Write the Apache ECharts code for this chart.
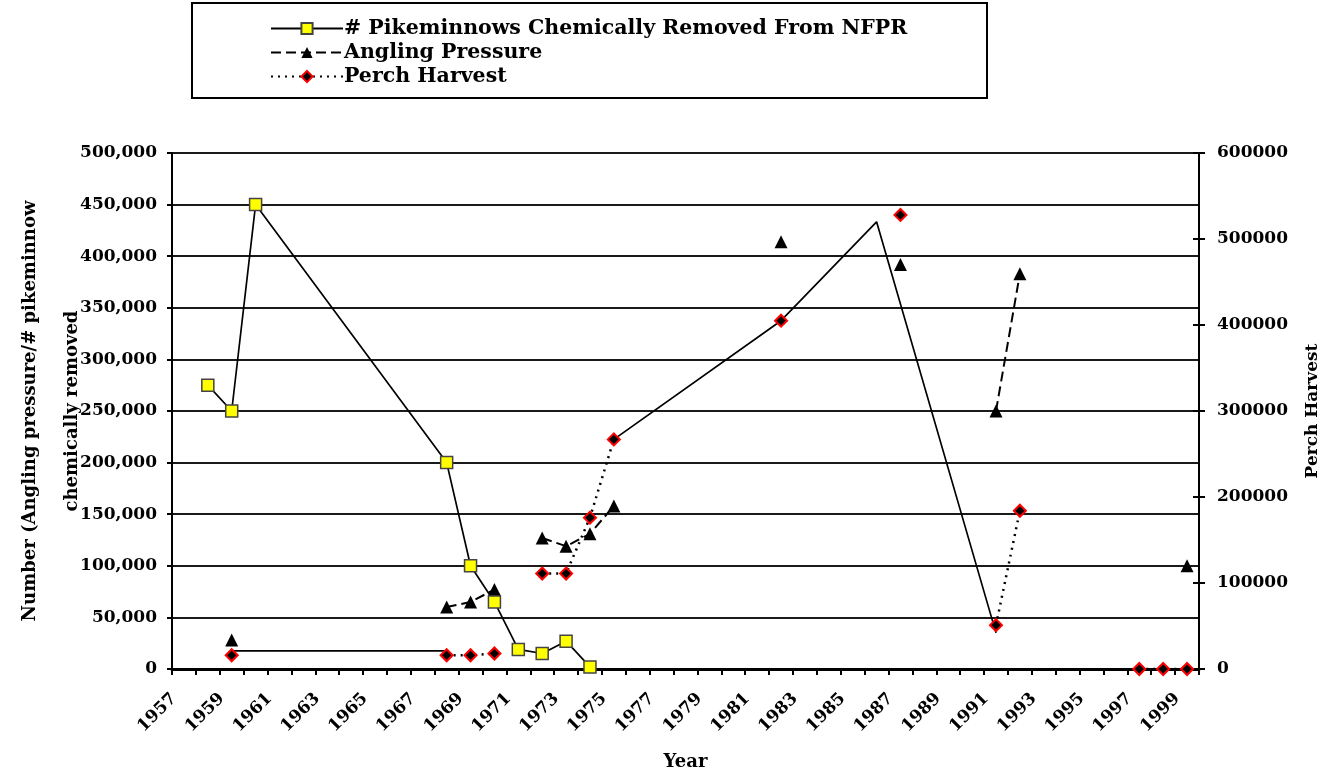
<!DOCTYPE html>
<html>
<head>
<meta charset="utf-8">
<script src="https://cdn.jsdelivr.net/npm/echarts@6/dist/echarts.min.js"></script>
<style>
  html, body { margin: 0; padding: 0; background: #fff; }
  #chart { width: 1330px; height: 776px; }
</style>
</head>
<body>
<div id="chart"></div>
<script>
// ---- Data ----
const years = ['1957','1958','1959','1960','1961','1962','1963','1964','1965','1966','1967','1968','1969','1970','1971','1972','1973','1974','1975','1976','1977','1978','1979','1980','1981','1982','1983','1984','1985','1986','1987','1988','1989','1990','1991','1992','1993','1994','1995','1996','1997','1998','1999'];

const pikeminnowYears  = ['1958','1959','1960','1968','1969','1970','1971','1972','1973','1974'];
const pikeminnowValues = [275000, 250000, 450000, 200000, 100000, 65000, 19000, 15000, 27000, 2000];

const anglingYears  = ['1959','1968','1969','1970','1972','1973','1974','1975','1982','1987','1991','1992','1999'];
const anglingValues = [28000, 60000, 65000, 77000, 127000, 119000, 131000, 158000, 414000, 392000, 250000, 383000, 100000];

const perchYears  = ['1959','1968','1969','1970','1972','1973','1974','1975','1982','1987','1991','1992','1997','1998','1999'];
const perchValues = [16000, 16000, 16000, 18000, 111000, 111000, 176000, 267000, 405000, 528000, 51000, 184000, 0, 0, 0];

// hand-drawn solid connector lines in the original (no markers, not in legend)
const connectorAYears  = ['1959','1968'];
const connectorAValues = [21000, 21000];
const connectorBYears  = ['1975','1982','1986','1991'];
const connectorBValues = [267000, 405000, 520000, 42000];

const leftTicks = { min: 0, max: 500000, interval: 50000 };
const rightTicks = { min: 0, max: 600000, interval: 100000 };

function toSeries(ys, vs) {
  const out = years.map(() => null);
  ys.forEach((y, i) => { out[years.indexOf(y)] = vs[i]; });
  return out;
}

const FONT = "'DejaVu Serif', 'Liberation Serif', serif";
const chart = echarts.init(document.getElementById('chart'), null, { renderer: 'canvas' });

chart.setOption({
  animation: false,
  backgroundColor: '#ffffff',
  textStyle: { fontFamily: FONT, fontWeight: 'bold', color: '#000' },
  grid: { left: 172, right: 131, top: 153, bottom: 107, containLabel: false, outerBoundsMode: 'none' },
  graphic: [{
    type: 'rect',
    shape: { x: 192, y: 3, width: 795, height: 95 },
    style: { fill: 'none', stroke: '#000', lineWidth: 2 },
    silent: true
  }],
  legend: {
    orient: 'vertical',
    left: 270,
    top: 17,
    itemWidth: 72,
    itemHeight: 14,
    itemGap: 1,
    padding: 0,
    textStyle: { fontFamily: FONT, fontWeight: 'bold', fontSize: 20.5, color: '#000', lineHeight: 23, padding: [0, 0, 0, -4] },
    data: ['# Pikeminnows Chemically Removed From NFPR', 'Angling Pressure', 'Perch Harvest']
  },
  xAxis: {
    type: 'category',
    data: years,
    boundaryGap: true,
    name: 'Year',
    nameLocation: 'middle',
    nameGap: 84,
    nameMoveOverlap: false,
    nameTextStyle: { fontFamily: FONT, fontWeight: 'bold', fontSize: 18, color: '#000', verticalAlign: 'top' },
    axisLine: { lineStyle: { color: '#000', width: 3 } },
    axisTick: { show: true, interval: 0, length: 6, lineStyle: { color: '#000', width: 2 } },
    axisLabel: {
      interval: 1, rotate: 45, margin: 17,
      fontFamily: FONT, fontWeight: 'bold', fontSize: 17, color: '#000',
      formatter: v => '{a|' + v + '}{s|}',
      rich: {
        a: { fontFamily: FONT, fontWeight: 'bold', fontSize: 17, color: '#000' },
        s: { width: 14 }
      }
    },
    splitLine: { show: false }
  },
  yAxis: [{
    type: 'value',
    position: 'left',
    min: leftTicks.min, max: leftTicks.max, interval: leftTicks.interval,
    name: 'Number (Angling pressure/# pikeminnow\nchemically removed',
    nameLocation: 'middle',
    nameGap: 79,
    nameMoveOverlap: false,
    nameRotate: 90,
    nameTextStyle: { fontFamily: FONT, fontWeight: 'bold', fontSize: 18, color: '#000', lineHeight: 42 },
    axisLine: { show: true, lineStyle: { color: '#000', width: 2 } },
    axisTick: { show: true, length: 5, lineStyle: { color: '#000', width: 2 } },
    axisLabel: {
      margin: 15, fontFamily: FONT, fontWeight: 'bold', fontSize: 17, color: '#000',
      formatter: v => v.toLocaleString('en-US')
    },
    splitLine: { show: true, lineStyle: { color: '#1a1a1a', width: 2 } }
  }, {
    type: 'value',
    position: 'right',
    min: rightTicks.min, max: rightTicks.max, interval: rightTicks.interval,
    name: 'Perch Harvest',
    nameLocation: 'middle',
    nameGap: 105,
    nameMoveOverlap: false,
    nameRotate: 90,
    nameTextStyle: { fontFamily: FONT, fontWeight: 'bold', fontSize: 17, color: '#000' },
    axisLine: { show: true, lineStyle: { color: '#000', width: 2 } },
    axisTick: { show: true, length: 6, lineStyle: { color: '#000', width: 2 } },
    axisLabel: { margin: 18, fontFamily: FONT, fontWeight: 'bold', fontSize: 17, color: '#000', formatter: v => String(v) },
    splitLine: { show: false }
  }, {
    // inner half of the crossing tick marks on the right axis
    type: 'value',
    position: 'right',
    min: rightTicks.min, max: rightTicks.max, interval: rightTicks.interval,
    axisLine: { show: false },
    axisTick: { show: true, inside: true, length: 6, lineStyle: { color: '#000', width: 2 } },
    axisLabel: { show: false },
    splitLine: { show: false }
  }],
  series: [{
    name: 'connectorA', type: 'line', yAxisIndex: 1, silent: true,
    data: toSeries(connectorAYears, connectorAValues), connectNulls: true,
    showSymbol: false, symbol: 'none',
    lineStyle: { color: '#000', width: 1.7 }, z: 1
  }, {
    name: 'connectorB', type: 'line', yAxisIndex: 1, silent: true,
    data: toSeries(connectorBYears, connectorBValues), connectNulls: true,
    showSymbol: false, symbol: 'none',
    lineStyle: { color: '#000', width: 1.7 }, z: 1
  }, {
    name: '# Pikeminnows Chemically Removed From NFPR', type: 'line', yAxisIndex: 0,
    data: toSeries(pikeminnowYears, pikeminnowValues), connectNulls: true,
    symbol: 'rect', symbolSize: 12,
    itemStyle: { color: '#ffff00', borderColor: '#444', borderWidth: 1.5 },
    lineStyle: { color: '#000', width: 1.7 }, z: 4
  }, {
    name: 'Angling Pressure', type: 'line', yAxisIndex: 0,
    data: toSeries(anglingYears, anglingValues), connectNulls: false,
    symbol: 'triangle', symbolSize: 13,
    itemStyle: { color: '#000' },
    lineStyle: { color: '#000', width: 2, type: [10, 5] }, z: 3
  }, {
    name: 'Perch Harvest', type: 'line', yAxisIndex: 1,
    data: toSeries(perchYears, perchValues), connectNulls: false,
    symbol: 'diamond', symbolSize: 12,
    itemStyle: { color: '#000', borderColor: '#ff0000', borderWidth: 2 },
    lineStyle: { color: '#000', width: 2.5, type: [2, 5] }, z: 5
  }]
});
</script>
</body>
</html>
